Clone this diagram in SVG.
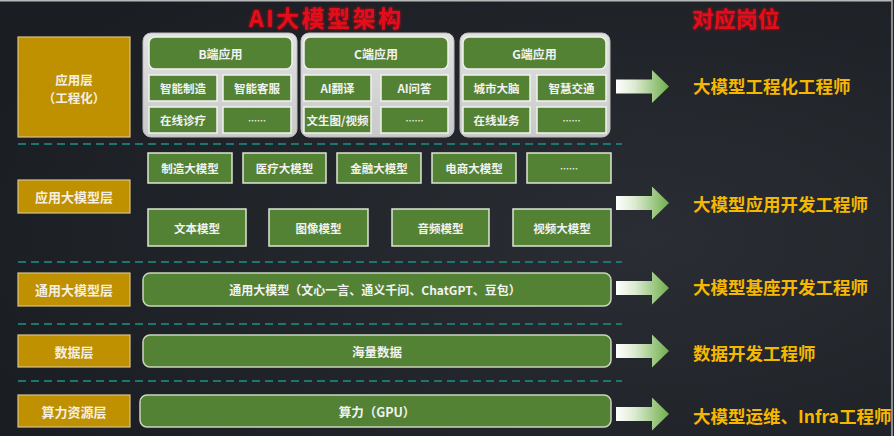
<svg xmlns="http://www.w3.org/2000/svg" width="894" height="436" viewBox="0 0 894 436">
<defs>
<radialGradient id="bg" cx="0.72" cy="0.55" r="0.8">
<stop offset="0" stop-color="#2a2d33"/>
<stop offset="1" stop-color="#1a1d22"/>
</radialGradient>
<linearGradient id="arrowGrad" x1="0" y1="0" x2="1" y2="0">
<stop offset="0" stop-color="#ffffff"/>
<stop offset="0.35" stop-color="#dcebd2"/>
<stop offset="1" stop-color="#6fae4a"/>
</linearGradient>
<linearGradient id="panelGrad" x1="0" y1="0" x2="0" y2="1">
<stop offset="0" stop-color="#e2e2e2"/>
<stop offset="1" stop-color="#c9c9c9"/>
</linearGradient>
<filter id="glow" x="-10%" y="-40%" width="120%" height="180%">
<feGaussianBlur in="SourceGraphic" stdDeviation="1.6" result="b"/>
<feGaussianBlur in="SourceGraphic" stdDeviation="0.5" result="s"/>
<feMerge><feMergeNode in="b"/><feMergeNode in="s"/></feMerge>
</filter>
<path id="arrowShape" d="M0,-7 H36 V-16.5 L53,0 L36,16.5 V7 H0 Z"/>
</defs>
<style>
text{font-family:"Noto Sans CJK SC","Noto Sans",sans-serif;font-weight:bold;dominant-baseline:central;text-anchor:middle;fill:#ffffff;}
.gold{fill:#bf9000;stroke:#d9c48a;stroke-width:1.2;}
.goldt{font-size:13px;fill:#f4efe0;}
.panel{fill:url(#panelGrad);stroke:#bdbdbd;stroke-width:1;}
.hdr{fill:#548235;stroke:#eef3ea;stroke-width:1.5;}
.cell{fill:#548235;stroke:#f0f4ec;stroke-width:1.5;}
.box{fill:#548235;stroke:#dce6d4;stroke-width:1.5;}
.bar{fill:#548235;stroke:#c9d6bf;stroke-width:1.5;}
.ct{font-size:11.5px;fill:#f2f2f2;}
.ht{font-size:12px;fill:#f2f2f2;}
.bt{font-size:12.5px;fill:#f2f2f2;}
.dash{stroke:#1d756f;stroke-width:2;stroke-dasharray:8 5;fill:none;}
.job{font-size:17.5px;fill:#f5b800;text-anchor:start;}
.title{font-size:23px;fill:#e3101c;text-anchor:start;letter-spacing:2.5px;}
.arrow{fill:url(#arrowGrad);}
</style>

<rect x="0" y="0" width="894" height="436" fill="url(#bg)"/>
<line x1="0" y1="0.8" x2="892" y2="0.8" stroke="#b8b8b8" stroke-width="1.6"/>
<line x1="892" y1="0" x2="892" y2="436" stroke="#a8a8a8" stroke-width="1.6"/>

<g id="titles">
<text class="title" x="249" y="17" filter="url(#glow)">AI大模型架构</text>
<text class="title" x="692" y="17" style="font-size:22px;letter-spacing:0" filter="url(#glow)">对应岗位</text>
</g>

<g id="separators">
<line class="dash" x1="18" y1="144" x2="622" y2="144"/>
<line class="dash" x1="18" y1="262" x2="622" y2="262"/>
<line class="dash" x1="18" y1="324" x2="622" y2="324"/>
<line class="dash" x1="18" y1="381" x2="622" y2="381"/>
</g>

<g id="layer-app">
<rect class="gold" x="18" y="37" width="112" height="100"/>
<text class="goldt" x="74" y="79" style="font-size:12.5px">应用层</text>
<text class="goldt" x="74" y="97.5" style="font-size:12.5px">（工程化）</text>
</g>

<g id="group-b">
<rect class="panel" x="143" y="33" width="154" height="104" rx="8"/>
<rect class="hdr" x="149" y="37" width="143" height="32" rx="6"/>
<text class="ht" x="220.5" y="53">B端应用</text>
<rect class="cell" x="149" y="75" width="68" height="26"/>
<text class="ct" x="183" y="88">智能制造</text>
<rect class="cell" x="223" y="75" width="68" height="26"/>
<text class="ct" x="257" y="88">智能客服</text>
<rect class="cell" x="149" y="107" width="68" height="26"/>
<text class="ct" x="183" y="120">在线诊疗</text>
<rect class="cell" x="223" y="107" width="68" height="26"/>
<text class="ct" x="257" y="120" style="font-size:9px">……</text>
</g>

<g id="group-c">
<rect class="panel" x="301" y="33" width="153" height="104" rx="8"/>
<rect class="hdr" x="304" y="37" width="144" height="32" rx="6"/>
<text class="ht" x="376" y="53">C端应用</text>
<rect class="cell" x="304" y="75" width="67" height="26"/>
<text class="ct" x="337.5" y="88">AI翻译</text>
<rect class="cell" x="381" y="75" width="67" height="26"/>
<text class="ct" x="414.5" y="88">AI问答</text>
<rect class="cell" x="304" y="107" width="67" height="26"/>
<text class="ct" x="337.5" y="120">文生图/视频</text>
<rect class="cell" x="381" y="107" width="67" height="26"/>
<text class="ct" x="414.5" y="120" style="font-size:9px">……</text>
</g>

<g id="group-g">
<rect class="panel" x="460" y="33" width="150" height="104" rx="8"/>
<rect class="hdr" x="463" y="37" width="143" height="32" rx="6"/>
<text class="ht" x="534.5" y="53">G端应用</text>
<rect class="cell" x="463" y="75" width="67" height="26"/>
<text class="ct" x="496.5" y="88">城市大脑</text>
<rect class="cell" x="537" y="75" width="69" height="26"/>
<text class="ct" x="571.5" y="88">智慧交通</text>
<rect class="cell" x="463" y="107" width="67" height="26"/>
<text class="ct" x="496.5" y="120">在线业务</text>
<rect class="cell" x="537" y="107" width="69" height="26"/>
<text class="ct" x="571.5" y="120" style="font-size:9px">……</text>
</g>

<g id="layer-appmodel">
<rect class="gold" x="18" y="180" width="112" height="33"/>
<text class="goldt" x="74" y="196.5">应用大模型层</text>
</g>

<g id="domain-models">
<rect class="box" x="148" y="153" width="84" height="30"/>
<text class="ct" x="190" y="168">制造大模型</text>
<rect class="box" x="243" y="153" width="83" height="30"/>
<text class="ct" x="284.5" y="168">医疗大模型</text>
<rect class="box" x="337" y="153" width="84" height="30"/>
<text class="ct" x="379" y="168">金融大模型</text>
<rect class="box" x="432" y="153" width="84" height="30"/>
<text class="ct" x="474" y="168">电商大模型</text>
<rect class="box" x="527" y="153" width="84" height="30"/>
<text class="ct" x="569" y="168" style="font-size:9px">……</text>
</g>

<g id="modal-models">
<rect class="box" x="148" y="209" width="98" height="37"/>
<text class="ct" x="197" y="227.5">文本模型</text>
<rect class="box" x="269" y="209" width="99" height="37"/>
<text class="ct" x="318.5" y="227.5">图像模型</text>
<rect class="box" x="392" y="209" width="97" height="37"/>
<text class="ct" x="440.5" y="227.5">音频模型</text>
<rect class="box" x="513" y="209" width="98" height="37"/>
<text class="ct" x="562" y="227.5">视频大模型</text>
</g>

<g id="layer-general">
<rect class="gold" x="18" y="273" width="112" height="33"/>
<text class="goldt" x="74" y="289.5">通用大模型层</text>
<rect class="bar" x="143" y="273" width="468" height="33" rx="7"/>
<text class="bt" x="375" y="289.5" style="font-size:12px">通用大模型（文心一言、通义千问、ChatGPT、豆包）</text>
</g>

<g id="layer-data">
<rect class="gold" x="18" y="335" width="112" height="32"/>
<text class="goldt" x="74" y="351">数据层</text>
<rect class="bar" x="143" y="335" width="468" height="32" rx="7"/>
<text class="bt" x="377" y="351">海量数据</text>
</g>

<g id="layer-compute">
<rect class="gold" x="18" y="395" width="112" height="32"/>
<text class="goldt" x="74" y="411">算力资源层</text>
<rect class="bar" x="140" y="395" width="471" height="32" rx="7"/>
<text class="bt" x="377" y="411">算力（GPU）</text>
</g>

<g id="connectors">
<use href="#arrowShape" class="arrow" transform="translate(616,86.5)"/>
<use href="#arrowShape" class="arrow" transform="translate(616,203)"/>
<use href="#arrowShape" class="arrow" transform="translate(616,288)"/>
<use href="#arrowShape" class="arrow" transform="translate(616,351)"/>
<use href="#arrowShape" class="arrow" transform="translate(616,414)"/>
</g>

<g id="jobs">
<text class="job" x="693" y="85">大模型工程化工程师</text>
<text class="job" x="693" y="203">大模型应用开发工程师</text>
<text class="job" x="693" y="286">大模型基座开发工程师</text>
<text class="job" x="693" y="352">数据开发工程师</text>
<text class="job" x="693" y="415">大模型运维、Infra工程师</text>
</g>
</svg>
